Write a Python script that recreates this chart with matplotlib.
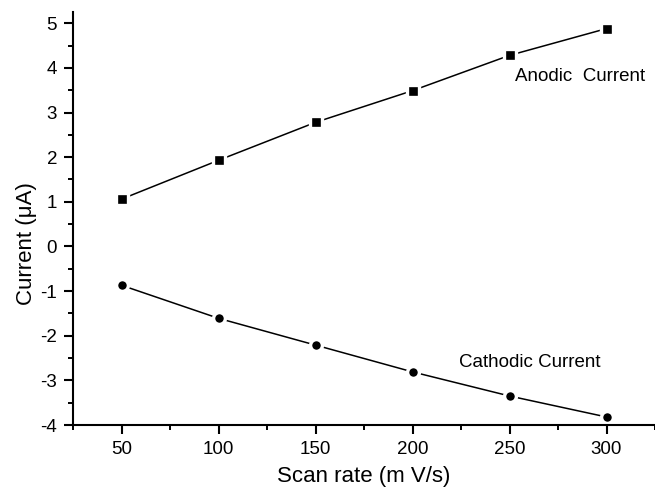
import matplotlib
matplotlib.use('Agg')
import matplotlib.pyplot as plt
from matplotlib.ticker import MultipleLocator

plt.rcParams['font.family'] = ['Liberation Sans', 'DejaVu Sans']
plt.rcParams['axes.unicode_minus'] = False

# Data
scan_rate = [50, 100, 150, 200, 250, 300]           # mV/s
anodic = [1.06, 1.93, 2.78, 3.49, 4.28, 4.88]       # uA
cathodic = [-0.87, -1.61, -2.21, -2.81, -3.35, -3.82]

fig = plt.figure(figsize=(6.55, 4.91), dpi=100)
ax = fig.add_axes([0.1115, 0.1344, 0.8885, 0.841])

ax.plot(scan_rate, anodic, color='black', linewidth=1.1, marker='s', markersize=8,
        markerfacecolor='black', markeredgecolor='white', markeredgewidth=2.4)
ax.plot(scan_rate, cathodic, color='black', linewidth=1.1, marker='o', markersize=8.5,
        markerfacecolor='black', markeredgecolor='white', markeredgewidth=2.4)

ax.text(253, 3.81, 'Anodic  Current', fontsize=13.5, ha='left', va='center')
ax.text(224, -2.61, 'Cathodic Current', fontsize=13.5, ha='left', va='center')

ax.set_xlim(25, 325)
ax.set_ylim(-4, 5.25)
ax.xaxis.set_major_locator(MultipleLocator(50))
ax.xaxis.set_minor_locator(MultipleLocator(25))
ax.yaxis.set_major_locator(MultipleLocator(1))
ax.yaxis.set_minor_locator(MultipleLocator(0.5))

for s in ['top', 'right']:
    ax.spines[s].set_visible(False)
for s in ['left', 'bottom']:
    ax.spines[s].set_linewidth(1.5)

ax.tick_params(which='major', direction='out', length=6.5, width=1.5, labelsize=13.5,
               colors='black', pad=5)
ax.tick_params(which='minor', direction='out', length=3.6, width=1.4)

ax.set_xlabel('Scan rate (m V/s)', fontsize=16, labelpad=6)
ax.set_ylabel('Current (\u03bcA)', fontsize=16)
ax.yaxis.set_label_coords(-0.062, 0.44)

plt.savefig('out.png', dpi=100)
